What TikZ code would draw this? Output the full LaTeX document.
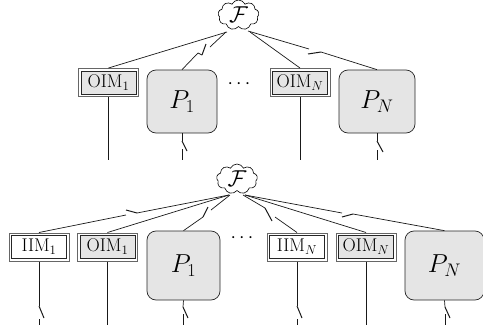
\documentclass[tikz,border=0pt]{standalone}
\usepackage{fix-cm}
\usetikzlibrary{shapes.symbols}
\newcommand{\modfont}{\fontsize{18.4}{22}\selectfont}
\newcommand{\procfont}{\fontsize{26}{30}\selectfont}
\newcommand{\cloudfont}{\fontsize{23}{26}\selectfont}
\tikzset{
  wire/.style={line width=0.7pt,black!90},
  modbox/.style={draw=black!60,fill=white,line width=1pt,minimum width=60pt,minimum height=28pt,inner sep=0pt,font=\modfont,
    path picture={\draw[black!85,line width=0.7pt,fill=#1]
      ([shift={(2.6pt,2.6pt)}]path picture bounding box.south west) rectangle
      ([shift={(-2.6pt,-2.6pt)}]path picture bounding box.north east);}},
  modbox/.default=white,
  procbox/.style={draw=black!85,line width=0.7pt,fill=black!10,rounded corners=9pt,inner sep=0pt,font=\procfont},
  fcloud/.style={draw=black,line width=0.6pt,cloud,cloud puffs=9,cloud puff arc=130,aspect=1.35,minimum width=41pt,minimum height=30pt,inner sep=0pt,font=\cloudfont},
  dotsnode/.style={inner sep=0pt,font=\fontsize{19.6}{22}\selectfont}
}
\begin{document}
\begin{tikzpicture}[x=1pt,y=-1pt]
\useasboundingbox (0,0) rectangle (483,335);
% ---------- top ----------
\node[fcloud] (ft) at (238.5,15) {$\mathcal{F}$};
\node[modbox=black!10] (to1) at (108.5,82.5) {$\mathrm{OIM}_1$};
\node[procbox,minimum width=70pt,minimum height=63pt] (tp1) at (182,101.5) {$P_1$};
\node[dotsnode] (td) at (239,84) {$\cdots$};
\node[modbox=black!10] (toN) at (300,82.5) {$\mathrm{OIM}_N$};
\node[procbox,minimum width=76pt,minimum height=63pt] (tpN) at (377,101.5) {$P_N$};
\coordinate (fa) at (227,32);
\coordinate (fb) at (226,32);
\coordinate (fc) at (250,32);
\coordinate (fd) at (248,31);
\coordinate (b1) at (108.5,160);
\coordinate (b2) at (300,160);
\draw[wire] (fa) -- (to1.north);
\draw[wire] (to1.south) -- (b1);
\coordinate (s1a) at (198,53);
\coordinate (s1b) at (202,55);
\coordinate (s1c) at (206,44);
\coordinate (s1d) at (210,47);
\draw[wire] (tp1.north) -- (s1a) -- (s1b);
\draw[wire,line width=1pt] (s1b) -- (s1c);
\draw[wire] (s1d) -- (fb);
\draw[wire] (fc) -- (toN.north);
\draw[wire] (toN.south) -- (b2);
\coordinate (s2a) at (309,49);
\coordinate (s2b) at (308,54);
\coordinate (s2c) at (321,52);
\draw[wire] (fd) -- (s2a);
\draw[wire,line width=1pt] (s2b) -- (s2c);
\draw[wire] (s2c) -- (tpN.north);
\coordinate (s3a) at (182,141);
\coordinate (s3b) at (187,151);
\coordinate (s3c) at (182,149);
\coordinate (s3d) at (182,160);
\draw[wire] (tp1.south) -- (s3a);
\draw[wire,line width=1pt] (s3a) -- (s3b);
\draw[wire] (s3c) -- (s3d);
\coordinate (s4a) at (377,141);
\coordinate (s4b) at (383,152);
\coordinate (s4c) at (377,150);
\coordinate (s4d) at (377,160);
\draw[wire] (tpN.south) -- (s4a);
\draw[wire,line width=1pt] (s4a) -- (s4b);
\draw[wire] (s4c) -- (s4d);
% ---------- bottom ----------
\node[fcloud] (fl) at (237,179) {$\mathcal{F}$};
\node[modbox] (li1) at (39,247) {$\mathrm{IIM}_1$};
\node[modbox=black!10] (lo1) at (107.5,247) {$\mathrm{OIM}_1$};
\node[procbox,minimum width=73pt,minimum height=69pt] (lp1) at (183.5,265.5) {$P_1$};
\node[dotsnode] (ld) at (242,238) {$\cdots$};
\node[modbox] (liN) at (297,247) {$\mathrm{IIM}_N$};
\node[modbox=black!10] (loN) at (366,247) {$\mathrm{OIM}_N$};
\node[procbox,minimum width=79pt,minimum height=69pt] (lpN) at (444.5,265.5) {$P_N$};
\coordinate (ga) at (229,195);
\coordinate (gb) at (230,195);
\coordinate (gc) at (243,195);
\coordinate (gd) at (245,195);
\coordinate (u1a) at (126,215);
\coordinate (u1b) at (126,210);
\coordinate (u1c) at (137,213);
\draw[wire] (li1.north) -- (u1a);
\draw[wire,line width=1pt] (u1b) -- (u1c);
\draw[wire] (u1c) -- (ga);
\draw[wire] (ga) -- (lo1.north);
\coordinate (u2a) at (203,217);
\coordinate (u2b) at (208,207);
\coordinate (u2c) at (211,210);
\draw[wire] (lp1.north) -- (u2a);
\draw[wire,line width=1pt] (u2a) -- (u2b);
\draw[wire] (u2c) -- (gb);
\coordinate (u3a) at (265,208);
\coordinate (u3b) at (272,221);
\coordinate (u3c) at (275,217);
\draw[wire] (gc) -- (u3a);
\draw[wire,line width=1pt] (u3a) -- (u3b);
\draw[wire] (u3c) -- (liN.north);
\draw[wire] (gd) -- (loN.north);
\coordinate (u4a) at (342,213);
\coordinate (u4b) at (342,217);
\coordinate (u4c) at (353,214);
\draw[wire] (gd) -- (u4a);
\draw[wire,line width=1pt] (u4b) -- (u4c);
\draw[wire] (u4c) -- (lpN.north);
\coordinate (v1a) at (39,306);
\coordinate (v1b) at (44,318);
\coordinate (v1c) at (39,319);
\coordinate (v1d) at (39,325);
\draw[wire] (li1.south) -- (v1a);
\draw[wire,line width=1pt] (v1a) -- (v1b);
\draw[wire] (v1c) -- (v1d);
\coordinate (v2) at (107.5,325);
\draw[wire] (lo1.south) -- (v2);
\coordinate (v3a) at (183,307);
\coordinate (v3b) at (188,318);
\coordinate (v3c) at (183,314);
\coordinate (v3d) at (183,325);
\draw[wire] (lp1.south) -- (v3a);
\draw[wire,line width=1pt] (v3a) -- (v3b);
\draw[wire] (v3c) -- (v3d);
\coordinate (v4a) at (297,306);
\coordinate (v4b) at (302,318);
\coordinate (v4c) at (297,319);
\coordinate (v4d) at (297,325);
\draw[wire] (liN.south) -- (v4a);
\draw[wire,line width=1pt] (v4a) -- (v4b);
\draw[wire] (v4c) -- (v4d);
\coordinate (v5) at (366,325);
\draw[wire] (loN.south) -- (v5);
\coordinate (v6a) at (445,307);
\coordinate (v6b) at (450,318);
\coordinate (v6c) at (445,314);
\coordinate (v6d) at (445,325);
\draw[wire] (lpN.south) -- (v6a);
\draw[wire,line width=1pt] (v6a) -- (v6b);
\draw[wire] (v6c) -- (v6d);
\end{tikzpicture}
\end{document}
